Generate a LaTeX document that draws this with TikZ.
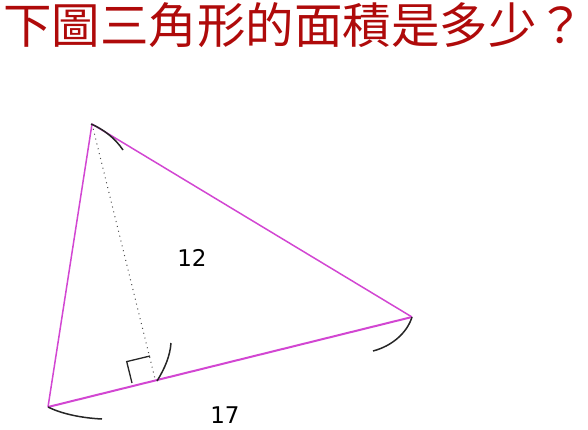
\documentclass[tikz,border=0pt]{standalone}
\usepackage{fontspec}
\setmainfont{DejaVu Sans}
\newfontfamily\cjk{Noto Sans CJK TC}
\definecolor{titlered}{RGB}{175,10,10}
\definecolor{tri}{RGB}{210,70,210}
\begin{document}
\begin{tikzpicture}[x=1pt,y=-1pt,
  side/.style={draw=tri,line width=1.5pt},
  arcmark/.style={draw=black!85,line width=1.5pt},
  lbl/.style={font=\fontsize{23}{23}\selectfont,inner sep=0pt}]
\useasboundingbox (0,0) rectangle (588,429);
\node[font=\cjk\fontsize{48.5}{48.5}\selectfont,text=titlered,inner sep=0pt] (title) at (294,25) {下圖三角形的面積是多少？};
\coordinate (A) at (92,124);
\coordinate (B) at (48,407);
\coordinate (C) at (412,317);
\coordinate (D) at (155.4,380.4);
\draw[side] (A) -- (B);
\draw[side] (A) -- (C);
\draw[side,line width=2pt] (B) -- (C);
\draw[black!70,line width=1pt,dash pattern=on 1pt off 4pt] (A) -- (D);
\coordinate (S1) at (132,383);
\coordinate (S2) at (126.7,361.6);
\coordinate (S3) at (150,356);
\draw[black!85,line width=1.3pt] (S1) -- (S2) -- (S3);
\draw[arcmark] (91,124) .. controls (103,129) and (115,138) .. (123,150);
\draw[arcmark] (412,317) .. controls (407,333) and (392,346) .. (373,351);
\draw[arcmark] (48,407) .. controls (62,414) and (82,418) .. (102,419);
\draw[arcmark] (171,343) .. controls (170,356) and (165,368) .. (157,381);
\node[lbl] (h) at (192,258) {12};
\node[lbl] (b) at (225,415) {17};
\end{tikzpicture}
\end{document}
